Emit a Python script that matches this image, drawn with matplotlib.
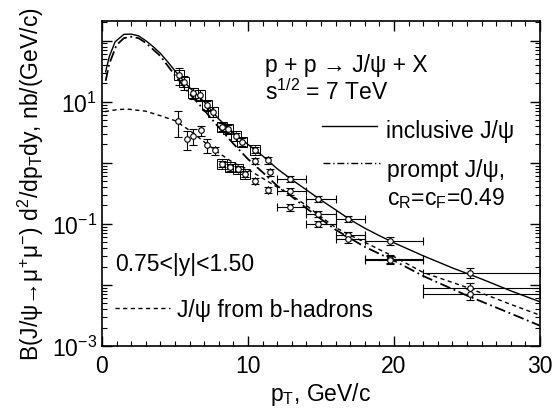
"""J/psi pT spectrum, pp at 7 TeV, 0.75<|y|<1.50"""

import matplotlib
matplotlib.use("Agg")
import matplotlib.pyplot as plt
from matplotlib.ticker import FixedLocator, FuncFormatter, MultipleLocator, NullFormatter
import numpy as np

plt.rcParams["font.family"] = ["Liberation Sans", "DejaVu Sans"]
plt.rcParams["mathtext.fontset"] = "custom"
plt.rcParams["mathtext.rm"] = "Liberation Sans"
plt.rcParams["mathtext.it"] = "Liberation Sans"
plt.rcParams["mathtext.bf"] = "Liberation Sans:bold"

# ---- theory curves ----
pt_incl_th = [0.25, 0.5, 0.9, 1.5, 2.0, 2.5, 3.0, 3.5, 4.0, 4.5, 5.0, 6.0, 7.0, 8.0, 9.0,
              10.0, 11.0, 12.0, 13.0, 14.0, 15.0, 16.0, 17.0, 18.0, 19.0, 20.0, 22.0,
              24.0, 26.0, 28.0, 30.0]
incl_th = [31, 55, 96, 127, 128, 120, 100, 80, 62, 45, 32, 17, 10, 5.2, 3.1,
           2.0, 1.3, 0.8, 0.53, 0.36, 0.245, 0.17, 0.117, 0.085, 0.064, 0.049, 0.030,
           0.019, 0.0125, 0.008, 0.0053]

pt_prompt_th = [0.25, 0.5, 1.0, 1.5, 2.0, 2.5, 3.0, 4.0, 5.0, 6.0, 7.0, 8.0, 9.0, 10.0,
                11.0, 12.0, 13.0, 14.0, 15.0, 16.0, 17.0, 18.0, 20.0, 22.0, 25.0, 28.0, 30.0]
prompt_th = [22, 42, 85, 110, 116, 110, 92, 56, 27, 13.5, 7.3, 3.8, 2.05, 1.15,
             0.7, 0.42, 0.28, 0.18, 0.12, 0.08, 0.058, 0.042, 0.025, 0.014, 0.0067, 0.0034, 0.00215]

pt_b_th = [0.2, 1.0, 1.7, 3.0, 4.0, 5.0, 6.0, 7.0, 8.0, 9.0, 10.0, 11.0, 12.0, 13.0,
           14.0, 15.0, 16.0, 17.0, 18.0, 19.0, 20.0, 22.0, 25.0, 28.0, 30.0]
b_th = [6.9, 7.4, 7.6, 7.0, 5.9, 4.9, 3.4, 2.2, 1.45, 1.0, 0.78, 0.56, 0.40, 0.29,
        0.20, 0.13, 0.087, 0.065, 0.05, 0.038, 0.029, 0.016, 0.0091, 0.0048, 0.0032]

# ---- data points ----
pt_incl = [5.25, 5.6, 6.25, 6.7, 7.2, 7.6, 8.2, 8.65, 9.2, 9.6, 10.5, 11.4,
           12.9, 14.8, 16.85, 19.7, 25.2]
incl = [27, 21, 14, 13, 8.7, 6.9, 3.9, 3.6, 2.7, 2.2, 1.65, 1.1,
        0.55, 0.26, 0.12, 0.053, 0.0158]
incl_rel_err = [0.3, 0.25, 0.2, 0.2, 0.18, 0.18, 0.15, 0.15, 0.15, 0.15, 0.12, 0.12,
                0.12, 0.12, 0.12, 0.14, 0.18]

pt_prompt = [10.5, 11.5, 12.9, 14.8, 16.85, 19.7, 25.2]
prompt = [1.09, 0.7, 0.34, 0.146, 0.065, 0.027, 0.0088]
prompt_rel_err = [0.12, 0.12, 0.12, 0.12, 0.14, 0.15, 0.2]

pt_b = [5.2, 5.8, 6.25, 6.75, 7.2, 7.75, 8.2, 8.77, 9.3, 9.8, 10.5, 11.4,
        12.9, 14.8, 16.85, 19.7, 25.2]
b_data = [4.9, 2.5, 2.8, 3.4, 1.93, 1.6, 0.96, 0.85, 0.8, 0.66, 0.51, 0.36,
          0.187, 0.10, 0.056, 0.026, 0.0071]
b_rel_err = [0.45, 0.35, 0.3, 0.2, 0.25, 0.15, 0.12, 0.12, 0.12, 0.12, 0.12, 0.12,
             0.12, 0.12, 0.14, 0.15, 0.2]

# pT bin edges for the high-pT points (shared by the three sets)
bin_lo = [12, 14, 16, 18, 22]
bin_hi = [14, 16, 18, 22, 30]


def draw_points(ax, pts, vals, rel, boxed=slice(0, 0)):
    pts = np.array(pts)
    vals = np.array(vals)
    rel = np.array(rel)
    yerr = np.vstack([vals * rel, vals * rel])
    xlo = np.zeros(len(pts))
    xhi = np.zeros(len(pts))
    nb = len(bin_lo)
    xlo[-nb:] = pts[-nb:] - np.array(bin_lo)
    xhi[-nb:] = np.array(bin_hi) - pts[-nb:]
    ax.errorbar(pts, vals, yerr=yerr, xerr=[xlo, xhi], fmt="o", ms=4,
                mfc="white", mec="black", mew=0.8, ecolor="black",
                elinewidth=0.8, capsize=3, capthick=0.8, zorder=4)
    ax.plot(pts[boxed], vals[boxed], "s", ms=6.5, mfc="none",
            mec="black", mew=0.7, zorder=4)


fig = plt.figure(figsize=(5.59, 4.14), dpi=100)
ax = fig.add_axes([102 / 559, 1 - 347 / 414, 438 / 559, 325 / 414])

ax.plot(pt_incl_th, incl_th, color="black", lw=1.0)
ax.plot(pt_prompt_th, prompt_th, color="black", lw=1.3, linestyle=(0, (6, 2, 1, 2)))
ax.plot(pt_b_th, b_th, color="black", lw=1.0, linestyle=(0, (3, 2.5)))

draw_points(ax, pt_incl, incl, incl_rel_err, slice(0, 11))
draw_points(ax, pt_prompt, prompt, prompt_rel_err)
draw_points(ax, pt_b, b_data, b_rel_err, slice(6, 10))

ax.set_yscale("log")
ax.set_xlim(0, 30)
ax.set_ylim(1e-3, 210)

ax.xaxis.set_major_locator(MultipleLocator(10))
ax.xaxis.set_minor_locator(MultipleLocator(1))
ax.yaxis.set_major_locator(FixedLocator([1e-3, 1e-2, 1e-1, 1, 10, 100]))
ax.yaxis.set_minor_locator(FixedLocator(
    [k * 10.0 ** e for e in range(-3, 3) for k in range(2, 10)]))
ax.yaxis.set_minor_formatter(NullFormatter())


def y_fmt(v, pos):
    e = int(round(np.log10(v)))
    if e % 2 == 0:
        return ""
    return r"$\mathregular{10^{%d}}$" % e


ax.yaxis.set_major_formatter(FuncFormatter(y_fmt))
ax.tick_params(which="both", direction="in", top=True, right=True, labelsize=16.5)
ax.tick_params(which="major", length=7, width=1)
ax.tick_params(which="minor", length=3.5, width=0.8)
ax.tick_params(axis="x", pad=6)
for sp in ax.spines.values():
    sp.set_linewidth(1.2)

ax.set_xlabel(r"p$_T$, GeV/c", fontsize=16.5, labelpad=2)
ax.set_ylabel(r"B(J/ψ→μ$^{+}$μ$^{-}$) d$^{2}$/dp$_T$dy, nb/(GeV/c)",
              fontsize=16.5, labelpad=4)

# annotations
fs = 16.5
ax.text(0.372, 0.847, "p + p → J/ψ + X", transform=ax.transAxes, fontsize=fs)
ax.text(0.372, 0.76, r"s$^{1/2}$ = 7 TeV", transform=ax.transAxes, fontsize=fs)
ax.text(0.648, 0.643, "inclusive J/ψ", transform=ax.transAxes, fontsize=fs)
ax.text(0.651, 0.524, "prompt J/ψ,", transform=ax.transAxes, fontsize=fs)
ax.text(0.651, 0.437, r"c$_R$=c$_F$=0.49", transform=ax.transAxes, fontsize=fs)
ax.text(0.03, 0.235, "0.75<|y|<1.50", transform=ax.transAxes, fontsize=fs)
ax.text(0.172, 0.093, "J/ψ from b-hadrons", transform=ax.transAxes, fontsize=fs)

# legend sample lines
ax.plot([0.502, 0.628], [0.677, 0.677], transform=ax.transAxes, color="black", lw=1.0)
ax.plot([0.505, 0.635], [0.563, 0.563], transform=ax.transAxes, color="black", lw=1.0,
        linestyle=(0, (5, 2, 1, 2)))
ax.plot([0.03, 0.155], [0.117, 0.117], transform=ax.transAxes, color="black", lw=1.0,
        linestyle=(0, (3, 2.5)))

fig.savefig("out.png", dpi=100)
